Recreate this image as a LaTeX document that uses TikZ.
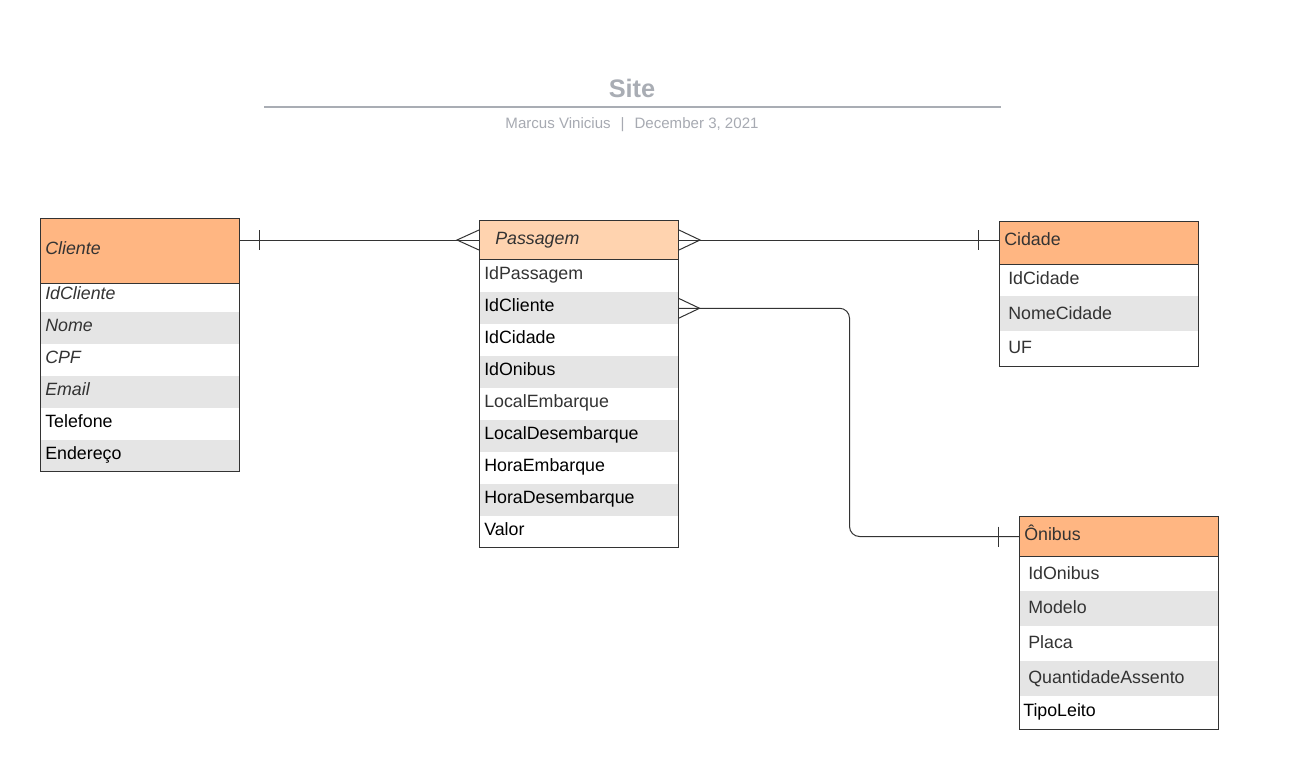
\documentclass[tikz,border=0pt]{standalone}
\usepackage{fontspec}
\setmainfont{Liberation Sans}
\usetikzlibrary{calc}

\definecolor{hdrorange}{HTML}{FFB682}
\definecolor{hdrpeach}{HTML}{FFD3AF}
\definecolor{rowgray}{HTML}{E5E5E5}
\definecolor{ink}{HTML}{333333}
\definecolor{titlegray}{HTML}{A9ADB4}
\definecolor{subgray}{HTML}{A7AAB2}

\tikzset{
  tablehead/.style={anchor=north west, draw=ink, line width=0.75pt, inner sep=0pt, minimum width=149.25pt},
  tablebody/.style={anchor=north west, draw=ink, line width=0.75pt, inner sep=0pt, minimum width=149.25pt},
  band/.style={anchor=north west, fill=rowgray, inner sep=0pt, minimum width=149.25pt},
  fld/.style={anchor=west, inner sep=0pt, text height=9.55pt, text depth=0pt,
    font=\fontsize{13.35pt}{15pt}\selectfont, text=black},
  fldgray/.style={fld, text=ink},
  fldit/.style={fld, text=ink, font=\fontsize{13.35pt}{15pt}\selectfont\itshape},
  conn/.style={draw=ink, line width=0.75pt},
}

\begin{document}
\begin{tikzpicture}[x=0.75pt, y=-0.75pt]
\useasboundingbox (0,0) rectangle (1291,783);
\fill[white] (0,0) rectangle (1291,783);

% title block
\node[font=\fontsize{19pt}{22pt}\selectfont\bfseries, text=titlegray, inner sep=0pt,
      text height=13.6pt, text depth=0pt] (title) at (632,88) {Site};
\draw[titlegray, line width=1.5pt] (264,107) -- (1001,107);
\node[font=\fontsize{11.3pt}{13pt}\selectfont, text=subgray, inner sep=0pt,
      text height=8.1pt, text depth=0pt] (byline) at (632,123)
      {Marcus Vinicius\hspace{7.5pt}|\hspace{7.5pt}December 3, 2021};

% ---------- Cliente ----------
\node[tablehead, fill=hdrorange, minimum height=48.75pt] (cli) at (40,218) {};
\node[band, minimum height=24pt] (cband1) at (40,312) {};
\node[band, minimum height=24pt] (cband2) at (40,376) {};
\node[band, minimum height=23.25pt] (cband3) at (40,440) {};
\node[tablebody, minimum height=141pt] (clibody) at (40,283) {};
\node[fldit] (cliT) at (45,248) {Cliente};
\node[fldit] (cf1) at (45,293) {IdCliente};
\node[fldit] (cf2) at (45,325) {Nome};
\node[fldit] (cf3) at (45,357) {CPF};
\node[fldit] (cf4) at (45,389) {Email};
\node[fld] (cf5) at (45,421) {Telefone};
\node[fld] (cf6) at (45,453) {Endereço};

% ---------- Passagem ----------
\node[tablehead, fill=hdrpeach, minimum height=29.25pt] (pas) at (479,220) {};
\node[band, minimum height=24pt] (pband1) at (479,292) {};
\node[band, minimum height=24pt] (pband2) at (479,356) {};
\node[band, minimum height=24pt] (pband3) at (479,420) {};
\node[band, minimum height=24pt] (pband4) at (479,484) {};
\node[tablebody, minimum height=216pt] (pasbody) at (479,259) {};
\node[fldit] (pasT) at (495,238) {Passagem};
\node[fldgray] (pf1) at (484,273) {IdPassagem};
\node[fld] (pf2) at (484,305) {IdCliente};
\node[fld] (pf3) at (484,337) {IdCidade};
\node[fld] (pf4) at (484,369) {IdOnibus};
\node[fldgray] (pf5) at (484,401) {LocalEmbarque};
\node[fld] (pf6) at (484,433) {LocalDesembarque};
\node[fld] (pf7) at (484,465) {HoraEmbarque};
\node[fld] (pf8) at (484,497) {HoraDesembarque};
\node[fld] (pf9) at (484,529) {Valor};

% ---------- Cidade ----------
\node[tablehead, fill=hdrorange, minimum height=32.25pt] (cid) at (999,221) {};
\node[band, minimum height=26.25pt] (dband1) at (999,296) {};
\node[tablebody, minimum height=76.5pt] (cidbody) at (999,264) {};
\node[fldgray] (cidT) at (1004,239) {Cidade};
\node[fldgray] (df1) at (1008,278) {IdCidade};
\node[fldgray] (df2) at (1008,313) {NomeCidade};
\node[fldgray] (df3) at (1008,347) {UF};

% ---------- Onibus ----------
\node[tablehead, fill=hdrorange, minimum height=30pt] (oni) at (1019,516) {};
\node[band, minimum height=26.25pt] (oband1) at (1019,591) {};
\node[band, minimum height=26.25pt] (oband2) at (1019,661) {};
\node[tablebody, minimum height=129.75pt] (onibody) at (1019,556) {};
\node[fldgray] (oniT) at (1024,534) {Ônibus};
\node[fldgray] (of1) at (1028,573) {IdOnibus};
\node[fldgray] (of2) at (1028,607) {Modelo};
\node[fldgray] (of3) at (1028,642) {Placa};
\node[fldgray] (of4) at (1028,677) {QuantidadeAssento};
\node[fld] (of5) at (1023,710) {TipoLeito};

% ---------- relationships ----------
% Cliente (one) -- Passagem (many)
\draw[conn] (cli.east |- pas.west) -- (pas.west);
\draw[conn] ($(cli.east |- pas.west)+(19,-10)$) -- ++(0,20);
\draw[conn] ($(pas.west)+(0,-10)$) -- ($(pas.west)+(-22,0)$) -- ($(pas.west)+(0,10)$);

% Passagem (many) -- Cidade (one)
\draw[conn] (pas.east) -- (pas.east -| cid.west);
\draw[conn] ($(pas.east)+(0,-10)$) -- ($(pas.east)+(21,0)$) -- ($(pas.east)+(0,10)$);
\draw[conn] ($(pas.east -| cid.west)+(-21,-10)$) -- ++(0,20);

% Passagem (many) -- Onibus (one)
\draw[conn, rounded corners=7.5pt] (pband1.east) -- ++(171,0) |- (oni.west);
\draw[conn] ($(pband1.east)+(0,-10)$) -- ($(pband1.east)+(21,0)$) -- ($(pband1.east)+(0,10)$);
\draw[conn] ($(oni.west)+(-21,-10)$) -- ++(0,20);
\end{tikzpicture}
\end{document}
